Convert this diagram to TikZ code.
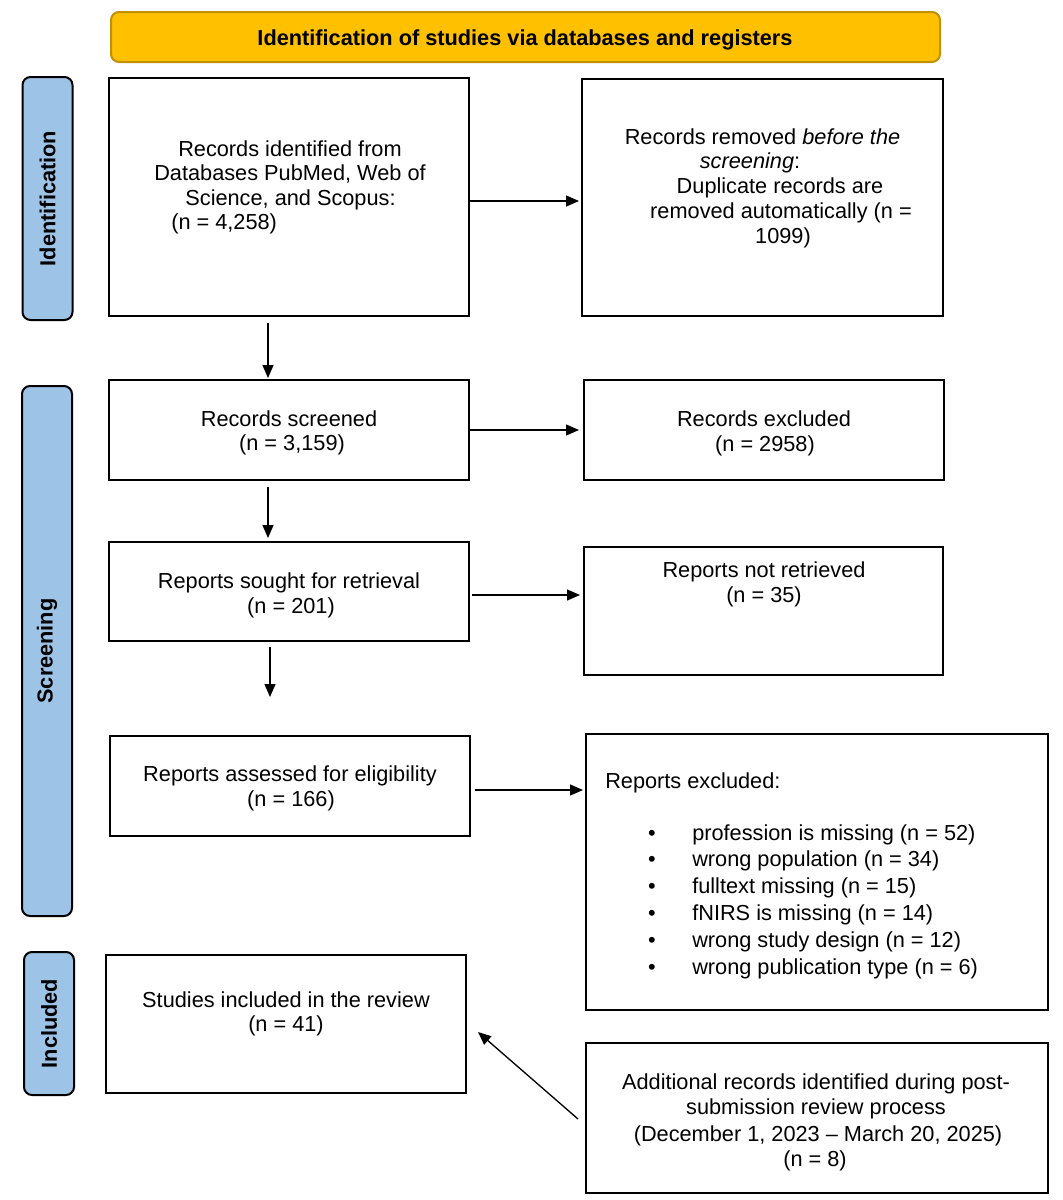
\documentclass[tikz,border=0pt]{standalone}
\usepackage{fontspec}
\setmainfont{Liberation Sans}
\usetikzlibrary{arrows.meta,calc}
\newlength\pxu
\setlength\pxu{0.75pt}
\definecolor{hdrfill}{HTML}{FFC000}
\definecolor{hdrdraw}{HTML}{BF9000}
\definecolor{sidefill}{HTML}{9DC3E6}
\begin{document}
\begin{tikzpicture}[x=0.75pt,y=-0.75pt,
  box/.style={draw=black,line width=1.5pt,inner sep=0pt,outer sep=0pt,minimum width=#1},
  box/.default=270pt,
  hdrbox/.style={draw=hdrdraw,fill=hdrfill,line width=1.5pt,rounded corners=6pt,inner sep=0pt},
  sidebox/.style={draw=black,fill=sidefill,line width=1.5pt,rounded corners=6pt,inner sep=0pt,minimum width=37.5pt},
  txt/.style={inner sep=0pt,anchor=base,font=\fontsize{16.3pt}{18.4pt}\selectfont},
  txtl/.style={txt,anchor=base west},
  btxt/.style={inner sep=0pt,font=\fontsize{16.3pt}{18.4pt}\selectfont\bfseries},
  arr/.style={line width=1pt,-{Triangle[length=9.75pt,width=8.25pt]}}
]
\useasboundingbox (0,0) rectangle (1063,1200);

% header
\node[hdrbox,minimum width=829\pxu,minimum height=50\pxu] (hdr) at (525.5,37) {};
\node[btxt,anchor=base] (hdrt) at (525,45) {Identification of studies via databases and registers};

% side labels
\node[sidebox,minimum height=243\pxu] (sid) at (47.5,198.5) {};
\node[btxt,rotate=90] (sidt) at (sid.center) {Identification};
\node[sidebox,minimum height=530\pxu] (ssc) at (47,651) {};
\node[btxt,rotate=90] (ssct) at (ssc.center) {Screening};
\node[sidebox,minimum height=143\pxu] (sin) at (49,1023.5) {};
\node[btxt,rotate=90] (sint) at (sin.center) {Included};

% boxes
\node[box,minimum height=238\pxu] (b1) at (289,197) {};
\node[box=361\pxu,minimum height=237\pxu] (r1) at (762.5,197.5) {};
\node[box,minimum height=100\pxu] (b2) at (289,430) {};
\node[box,minimum height=100\pxu] (r2) at (764,430) {};
\node[box,minimum height=99\pxu] (b3) at (289,591.5) {};
\node[box=359\pxu,minimum height=128\pxu] (r3) at (763.5,611) {};
\node[box,minimum height=100\pxu] (b4) at (290,786) {};
\node[box=462\pxu,minimum height=276\pxu] (r4) at (817,872) {};
\node[box,minimum height=138\pxu] (b5) at (286,1024) {};
\node[box=462\pxu,minimum height=150\pxu] (r5) at (817,1118) {};

% texts b1
\node[txt] (b1a) at (290,156) {Records identified from};
\node[txt] (b1b) at (290,180.5) {Databases PubMed, Web of};
\node[txt] (b1c) at (290.5,205) {Science, and Scopus:};
\node[txtl] (b1d) at (171,229.5) {(n = 4,258)};

% texts r1
\node[txt] (r1a) at (762.5,144) {Records removed \textit{before the}};
\node[txt] (r1b) at (750,168.5) {\textit{screening}:};
\node[txt] (r1c) at (780,193) {Duplicate records are};
\node[txt] (r1d) at (781,218) {removed automatically (n =};
\node[txt] (r1e) at (783,243) {1099)};

% b2 / r2
\node[txt] (b2a) at (289,426) {Records screened};
\node[txt] (b2b) at (292,450) {(n = 3,159)};
\node[txt] (r2a) at (764,426) {Records excluded};
\node[txt] (r2b) at (765,451) {(n = 2958)};

% b3 / r3
\node[txt] (b3a) at (289,588) {Reports sought for retrieval};
\node[txt] (b3b) at (291,613) {(n = 201)};
\node[txt] (r3a) at (764,577) {Reports not retrieved};
\node[txt] (r3b) at (764,602) {(n = 35)};

% b4 / r4
\node[txt] (b4a) at (290,781) {Reports assessed for eligibility};
\node[txt] (b4b) at (291,806) {(n = 166)};
\node[txtl] (r4a) at (605,788) {Reports excluded:};
\foreach \yy/\tt [count=\i] in {840/profession is missing (n = 52),866/wrong population (n = 34),893/fulltext missing (n = 15),920/fNIRS is missing (n = 14),947/wrong study design (n = 12),974/wrong publication type (n = 6)}{
  \node[txt] (bul\i) at (652,\yy) {•};
  \node[txtl] (itm\i) at (692,\yy) {\tt};
}

% b5 / r5
\node[txt] (b5a) at (286,1007) {Studies included in the review};
\node[txt] (b5b) at (286,1031) {(n = 41)};
\node[txt] (r5a) at (816,1089) {Additional records identified during post-};
\node[txt] (r5b) at (816,1114) {submission review process};
\node[txt] (r5c) at (818,1141) {(December 1, 2023 – March 20, 2025)};
\node[txt] (r5d) at (815,1166) {(n = 8)};

% connectors
\draw[arr] ($(b1.east)+(0,4)$) -- ($(r1.west|-b1.east)+(-3,4)$);
\draw[arr] (b2.east) -- ($(b2.east-|r2.west)+(-5,0)$);
\draw[arr] ($(b3.east)+(3,3.5)$) -- ($(b3.east-|r3.west)+(-4,3.5)$);
\draw[arr] ($(b4.east)+(5,4)$) -- ($(b4.east-|r4.west)+(-3,4)$);
\draw[arr] ($(b1.south)+(-21,7)$) -- ($(b2.north)+(-21,-2)$);
\draw[arr] ($(b2.south)+(-21,7)$) -- ($(b3.north)+(-21,-4)$);
\coordinate (b4top) at ($(b4.north)+(-20,-39)$);
\draw[arr] ($(b3.south)+(-19,6)$) -- (b4top);
\draw[arr] ($(r5.west)+(-8,1)$) -- ($(b5.east)+(12,8)$);
\end{tikzpicture}
\end{document}
